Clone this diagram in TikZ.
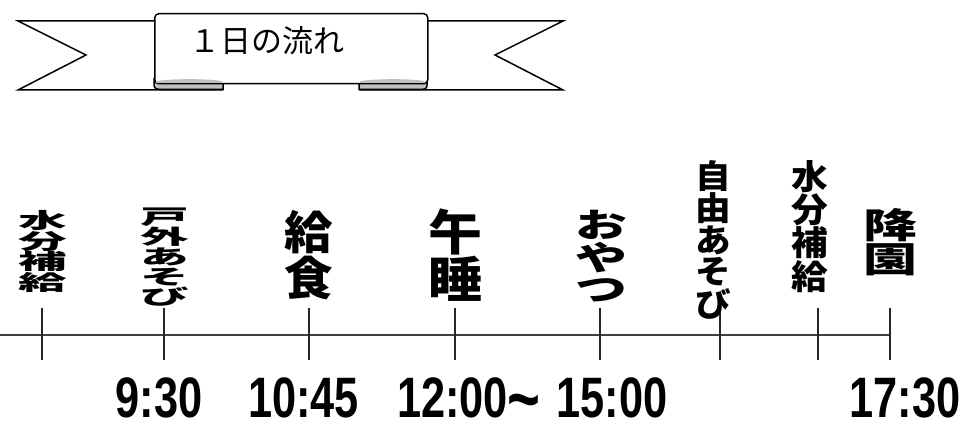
\documentclass[tikz,border=0pt]{standalone}
\usepackage{fontspec}
\usepackage{graphicx}
\newfontfamily\jp{Noto Sans CJK JP}
\newfontfamily\digitfont{Liberation Sans}
\tikzset{
  rib/.style={line width=1.5pt, black, line join=miter},
  curl/.style={line width=1.5pt, black, fill=black!25},
  axis/.style={line width=2pt, black!75},
  tick/.style={line width=1.2pt, black!85},
  timelab/.style={inner sep=0, anchor=base, text depth=0pt},
}
\newcommand\jpc[1]{{\fontsize{20}{20}\selectfont\jp\bfseries #1}}
% \vlab{name}{x}{ytop}{ybot}{width}{n}{chars}
\newcommand\vlab[7]{%
  \pgfmathsetmacro\cellh{(#4-#3)/#6}%
  \pgfmathsetmacro\sy{\cellh/20*1.02}%
  \pgfmathsetmacro\sx{#5/20*1.08}%
  \foreach \c [count=\i] in {#7}{%
    \node[inner sep=0, anchor=center] (#1-\i) at (#2, {#3+\cellh*(\i-0.5)}) {\scalebox{\sx}[\sy]{\jpc{\c}}};
  }%
}
\newcommand\tlab[1]{\scalebox{0.76}[1]{\fontsize{57}{57}\selectfont\digitfont\bfseries #1}}
\begin{document}
\begin{tikzpicture}[x=1pt,y=-1pt]
\path[use as bounding box, fill=white] (0,0) rectangle (963,422);

% ---- ribbon ----
\draw[rib] (154,21) -- (18,21) -- (86,55) -- (18,90) -- (223,90);
\draw[rib] (427,21) -- (563,21) -- (495,55) -- (563,90) -- (359,90);
\draw[curl] (154,78) -- (154,85) .. controls (154,89) and (157,89.5) .. (164,89.5) -- (223,89.5) -- (223,82);
\draw[curl] (359,82) -- (359,89.5) -- (418,89.5) .. controls (425,89.5) and (427,89) .. (427,85) -- (427,78);
\node[draw, line width=1.5pt, fill=white, rounded corners=4pt, minimum width=273pt, minimum height=70pt, inner sep=0, anchor=north west] (banner) at (154,13) {};
\fill[black!25] (156,81.2) .. controls (170,78.5) and (210,78.5) .. (222,81.2) -- (222,83) -- (156,83) -- cycle;
\fill[black!25] (360,81.2) .. controls (375,78.5) and (412,78.5) .. (425,81.2) -- (425,83) -- (360,83) -- cycle;
\node[inner sep=0] (title) at (267,41) {\fontsize{31}{31}\selectfont\jp １日の流れ};

% ---- timeline ----
\coordinate (axL) at (0,335);
\coordinate (axR) at (890,335);
\draw[axis] (axL) -- (axR);
\foreach \n/\x in {1/42,2/164,3/309,4/455,5/600,6/720,7/818,8/890}{
  \coordinate (tt\n) at (\x,308);
  \coordinate (tb\n) at (\x,360);
  \draw[tick] (tt\n) -- (tb\n);
}

% ---- vertical labels ----
\vlab{a}{42.5}{210}{293}{45}{4}{水,分,補,給}
\vlab{b}{164.5}{207}{307}{45}{5}{戸,外,あ,そ,び}
\vlab{c}{309}{210}{300}{45}{2}{給,食}
\vlab{d}{455}{208}{303}{50}{2}{午,睡}
\vlab{e}{601}{209}{307}{48}{3}{お,や,つ}
\vlab{f}{713.5}{160}{320}{33}{5}{自,由,あ,そ,び}
\vlab{g}{810}{160}{293}{34}{4}{水,分,補,給}
\vlab{h}{890}{208}{277}{50}{2}{降,園}

% ---- times ----
\node[timelab] (t930) at (159,417) {\tlab{9:30}};
\node[timelab] (t1045) at (303.5,417) {\tlab{10:45}};
\node[timelab] (t1200) at (469,417) {\tlab{12:00\raisebox{-7pt}{\scalebox{1.3}{\textasciitilde}}}};
\node[timelab] (t1500) at (612,417) {\tlab{15:00}};
\node[timelab] (t1730) at (905,417) {\tlab{17:30}};
\end{tikzpicture}
\end{document}
